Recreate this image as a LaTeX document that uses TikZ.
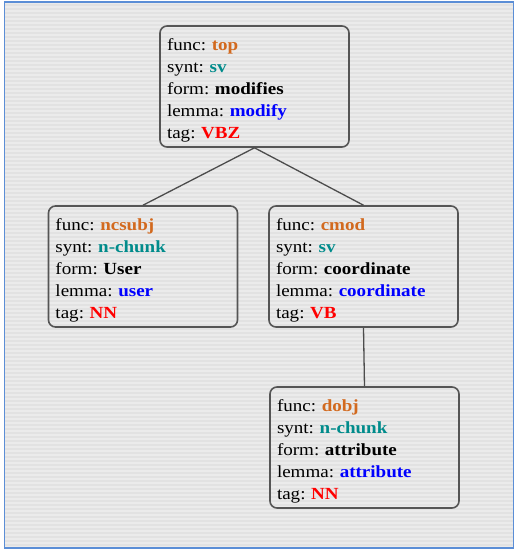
\documentclass[tikz,border=0pt]{standalone}
\usepackage{fontspec}
\setmainfont[FakeStretch=1.12]{Liberation Serif}
\definecolor{bgA}{HTML}{E2E2E2}
\definecolor{bgB}{HTML}{EBEBEB}
\definecolor{frameblue}{HTML}{5B8ED6}
\definecolor{boxgray}{HTML}{555555}
\definecolor{fnc}{HTML}{D2691E}
\definecolor{syn}{HTML}{008B8B}
\definecolor{lem}{HTML}{0000FF}
\definecolor{tg}{HTML}{FF0000}
\newcommand{\featbox}[5]{\frenchspacing func: \textbf{\color{fnc}#1}\\ synt: \textbf{\color{syn}#2}\\ form: \textbf{#3}\\ lemma: \textbf{\color{lem}#4}\\ tag: \textbf{\color{tg}#5}}
\tikzset{
  featframe/.style={draw=boxgray, line width=1.6pt, rounded corners=7pt, fill=none,
    minimum width=189pt, minimum height=121pt, inner sep=0pt},
  feattext/.style={text width=175pt, inner xsep=7pt, inner ysep=0pt,
    align=left, font=\fontsize{17pt}{22pt}\selectfont},
  edge/.style={draw=boxgray!90!black, line width=1.3pt}
}
\begin{document}
\begin{tikzpicture}[x=1pt,y=-1pt]
\useasboundingbox (0,0) rectangle (515,550);
\fill[bgA] (4.5,2) rectangle (513.5,548);
\foreach \i in {0,...,136} {
  \fill[bgB] (4.5,{2+4*\i}) rectangle (513.5,{4+4*\i});
}
\draw[frameblue, line width=1.8pt] (4.5,2) rectangle (513.5,548);
\node[featframe] (top) at (254.5,86.5) {};
\node[featframe] (ncsubj) at (143,266.5) {};
\node[featframe] (cmod) at (363.5,266.5) {};
\node[featframe] (dobj) at (364.5,447.5) {};
\node[feattext] (top-t) at ([yshift=-3.5pt]top.center) {\featbox{top}{sv}{modifies}{modify}{VBZ}};
\node[feattext] (ncsubj-t) at ([yshift=-3.5pt]ncsubj.center) {\featbox{ncsubj}{n-chunk}{User}{user}{NN}};
\node[feattext] (cmod-t) at ([yshift=-3.5pt]cmod.center) {\featbox{cmod}{sv}{coordinate}{coordinate}{VB}};
\node[feattext] (dobj-t) at ([yshift=-3.5pt]dobj.center) {\featbox{dobj}{n-chunk}{attribute}{attribute}{NN}};
\draw[edge] (top.south) -- (ncsubj.north);
\draw[edge] (top.south) -- (cmod.north);
\draw[edge] (cmod.south) -- (dobj.north);
\end{tikzpicture}
\end{document}
